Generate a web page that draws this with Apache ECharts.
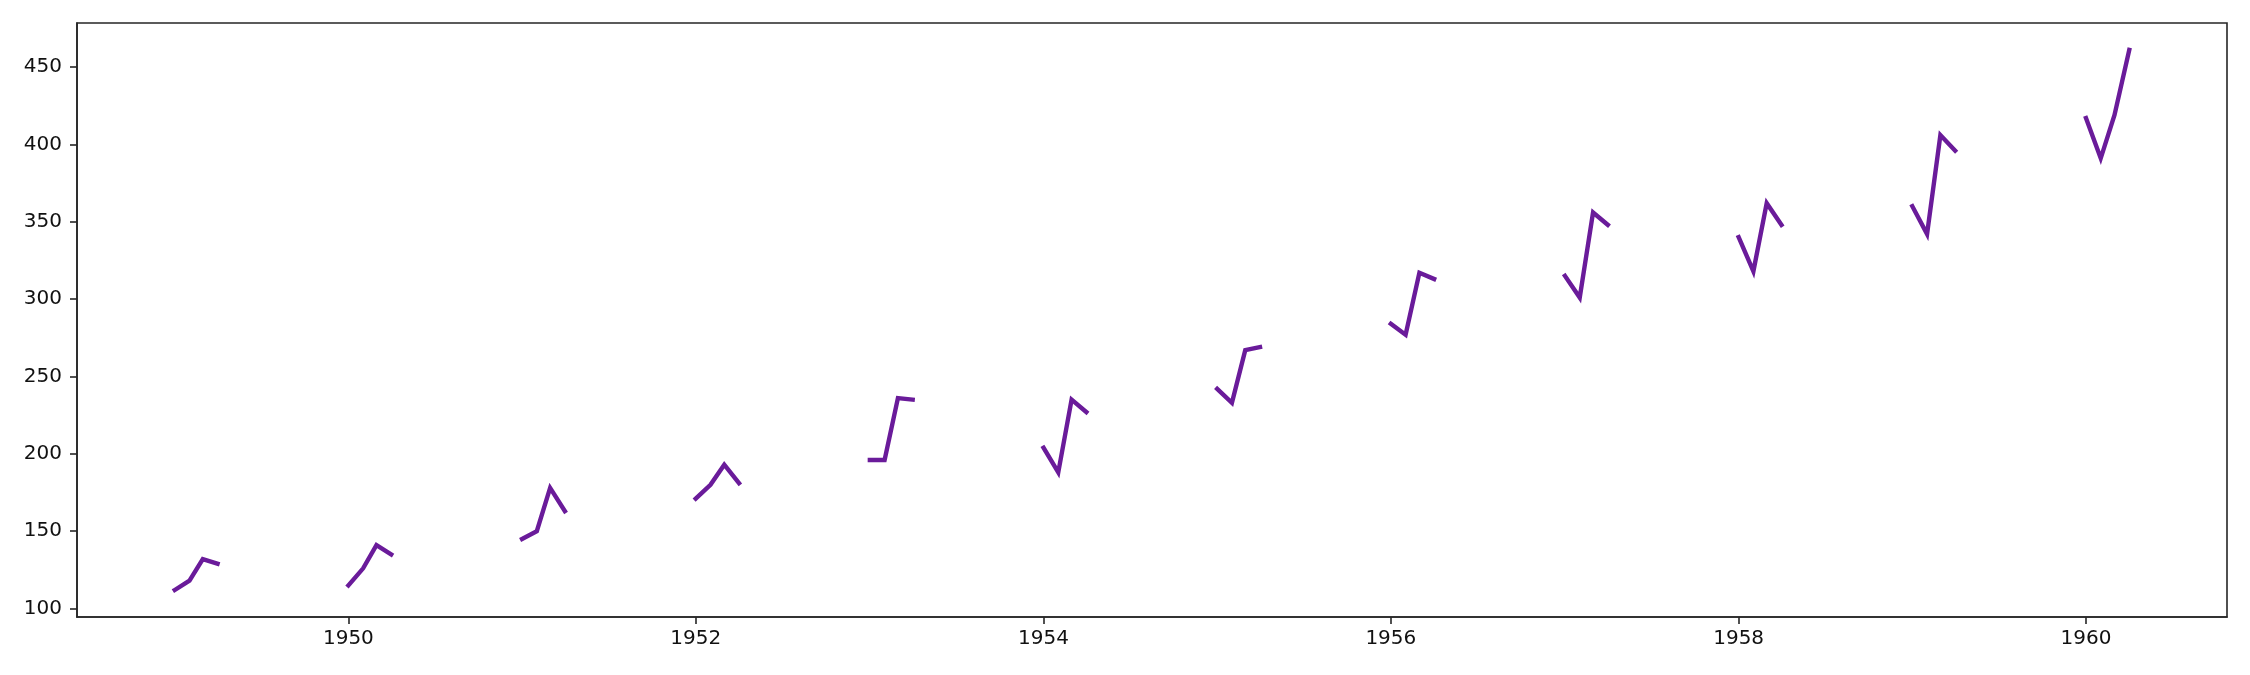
<!DOCTYPE html>
<html>
<head>
<meta charset="utf-8">
<script src="https://cdn.jsdelivr.net/npm/echarts@6/dist/echarts.min.js"></script>
<style>
html,body{margin:0;padding:0;background:#fff;}
#chart{width:2250px;height:675px;}
</style>
</head>
<body>
<div id="chart"></div>
<script>
// Data: monthly airline passengers, Jan–Apr of each year
const years = [1949,1950,1951,1952,1953,1954,1955,1956,1957,1958,1959,1960];
const months = [0,1,2,3]; // Jan, Feb, Mar, Apr
const passengers = [
  [112,118,132,129],
  [115,126,141,135],
  [145,150,178,163],
  [171,180,193,181],
  [196,196,236,235],
  [204,188,235,227],
  [242,233,267,269],
  [284,277,317,313],
  [315,301,356,348],
  [340,318,362,348],
  [360,342,406,396],
  [417,391,419,461]
];
const xTickYears = [1950,1952,1954,1956,1958,1960];
const yTicks = [100,150,200,250,300,350,400,450];

const color = '#6a1b9a';
const allT = [], allV = [];
const series = years.map((y, i) => {
  const data = months.map((m, j) => {
    const t = Date.UTC(y, m, 1);
    allT.push(t); allV.push(passengers[i][j]);
    return [t, passengers[i][j]];
  });
  return {
    type: 'line', data, showSymbol: false, symbol: 'none',
    lineStyle: { color, width: 4.4, cap: 'square', join: 'miter' },
    itemStyle: { color }, silent: true, animation: false
  };
});
const tMin = Math.min(...allT), tMax = Math.max(...allT);
const vMin = Math.min(...allV), vMax = Math.max(...allV);
const tPad = (tMax - tMin) * 0.05, vPad = (vMax - vMin) * 0.05;

const axisLine = { show: true, lineStyle: { color: '#262626', width: 1.6 } };
const labelFont = { fontFamily: 'DejaVu Sans', fontSize: 20, color: '#111111' };

const chart = echarts.init(document.getElementById('chart'), null, { renderer: 'canvas' });
chart.setOption({
  animation: false,
  backgroundColor: '#ffffff',
  grid: { left: 77, right: 23, top: 23, bottom: 58, containLabel: false,
          show: true, borderColor: '#262626', borderWidth: 1.6, backgroundColor: 'transparent' },
  xAxis: {
    type: 'value', min: tMin - tPad, max: tMax + tPad,
    axisLine, splitLine: { show: false },
    axisTick: { show: true, length: 7, lineStyle: { color: '#262626', width: 1.6 },
                customValues: xTickYears.map(y => Date.UTC(y, 0, 1)) },
    axisLabel: Object.assign({ margin: 12, customValues: xTickYears.map(y => Date.UTC(y, 0, 1)),
                formatter: v => String(new Date(v).getUTCFullYear()) }, labelFont)
  },
  yAxis: {
    type: 'value', min: vMin - vPad, max: vMax + vPad,
    axisLine, splitLine: { show: false },
    axisTick: { show: true, length: 7, lineStyle: { color: '#262626', width: 1.6 }, customValues: yTicks },
    axisLabel: Object.assign({ margin: 15, customValues: yTicks }, labelFont)
  },
  series
});
</script>
</body>
</html>
